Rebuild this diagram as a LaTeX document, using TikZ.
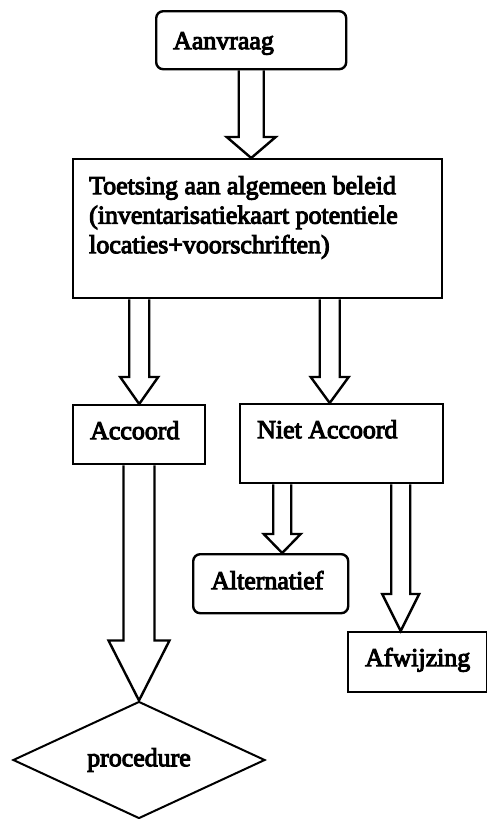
\documentclass[tikz,border=0pt]{standalone}
\usepackage{fontspec}
\newfontfamily\flowfont{Liberation Serif}[FakeBold=4]
\usetikzlibrary{calc,shapes.geometric}
\tikzset{
  flowbox/.style={draw, line width=2.4pt, inner xsep=17pt, inner ysep=0pt, anchor=north west},
  roundbox/.style={flowbox, rounded corners=7pt},
  decision/.style={draw, diamond, aspect=2.15, line width=2pt, inner sep=0pt, minimum width=252pt, minimum height=117pt},
  hollow/.style={line width=2.4pt, line join=miter}
}
% open block arrow: shaft from the source edge, head ending on the target point
\newcommand{\blockarrow}[5]{%
  \draw[hollow] let \p1=(#1), \p2=(#2) in
    (\x2-#3,\y1) -- (\x2-#3,\y2+#5) -- (\x2-#4,\y2+#5) -- (\x2,\y2)
    -- (\x2+#4,\y2+#5) -- (\x2+#3,\y2+#5) -- (\x2+#3,\y1);}

\begin{document}
\begin{tikzpicture}[x=1pt, y=-1pt, font=\flowfont\fontsize{25.9}{29.5}\selectfont]
  \useasboundingbox (0,0) rectangle (487,819);

  \node[roundbox, text height=38pt, text depth=20pt] (aanvraag) at (155,10) {\makebox[156pt][l]{Aanvraag}};
  \node[flowbox, inner xsep=16pt, text height=35pt, text depth=104pt] (toets) at (72,158)
    {\parbox[t]{337pt}{Toetsing aan algemeen beleid\\(inventarisatiekaart potentiele\\locaties+voorschriften)}};
  \node[flowbox, text height=34pt, text depth=25pt] (accoord) at (72,404) {\makebox[98pt][l]{Accoord}};
  \node[flowbox, text height=34pt, text depth=45pt] (niet) at (239,403) {\makebox[169pt][l]{Niet Accoord}};
  \node[roundbox, inner xsep=18pt, text height=35pt, text depth=24pt] (altern) at (192,553) {\makebox[119pt][l]{Alternatief}};
  \node[flowbox, text height=34pt, text depth=26pt] (afwijz) at (347,631) {\makebox[105pt][l]{Afwijzing}};
  \node[decision] (proc) at (139,760) {procedure};

  % connectors
  \blockarrow{aanvraag.south}{aanvraag |- toets.north}{12.5pt}{24.5pt}{21pt}
  \blockarrow{toets.south}{accoord.north}{10pt}{19pt}{27pt}
  \blockarrow{toets.south}{[xshift=-12pt]niet.north}{10pt}{19pt}{26pt}
  \blockarrow{niet.south}{[xshift=11.5pt]altern.north}{9pt}{18.5pt}{19pt}
  \blockarrow{niet.south}{[xshift=-17pt]afwijz.north}{9.5pt}{18.5pt}{37pt}
  \blockarrow{accoord.south}{proc.north}{15.5pt}{30.5pt}{60pt}
\end{tikzpicture}
\end{document}
